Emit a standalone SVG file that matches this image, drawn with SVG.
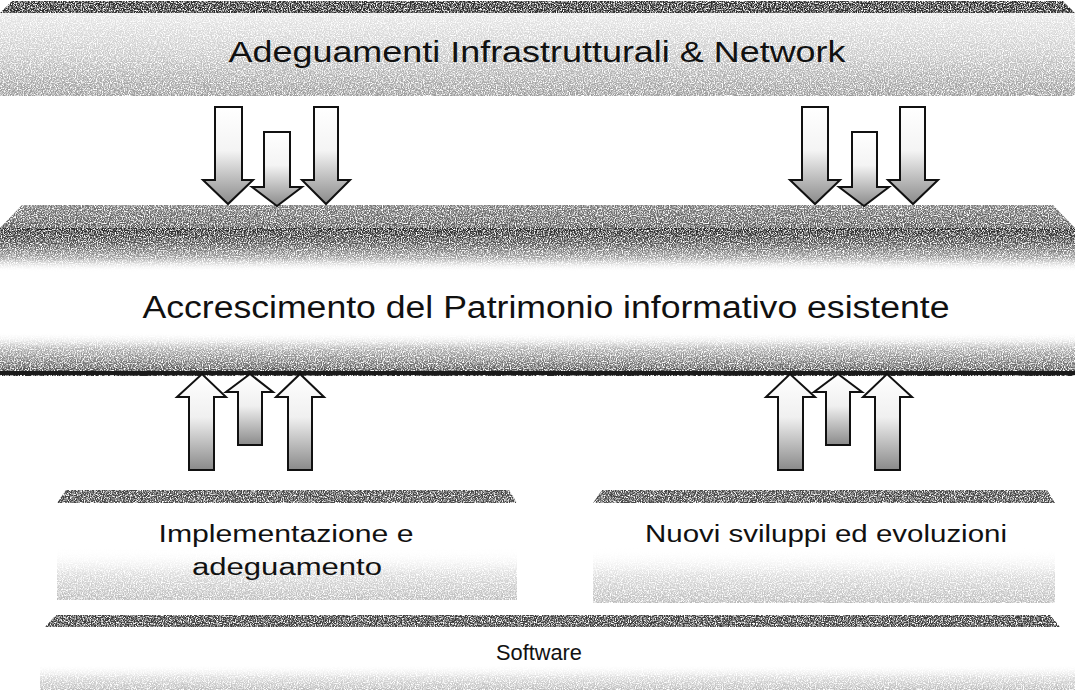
<svg xmlns="http://www.w3.org/2000/svg" width="1075" height="690" viewBox="0 0 1075 690">
<style>
.t{font-family:"Liberation Sans","Open Sans",sans-serif;fill:#111;}
.arrow{stroke:#111;stroke-width:2;stroke-linejoin:miter;}
</style>
<defs>
<filter id="grain" x="0" y="0" width="1" height="1">
<feTurbulence type="fractalNoise" baseFrequency="0.85" numOctaves="2" seed="4" result="n"/>
<feColorMatrix in="n" type="matrix" values="0 0 0 0 0  0 0 0 0 0  0 0 0 0 0  0 0 0 3.2 -0.9" result="a"/>
<feComposite in="SourceGraphic" in2="a" operator="in"/>
</filter>
<linearGradient id="topBand" x1="0" y1="0" x2="0" y2="1">
<stop offset="0" stop-color="#e8e8e8"/>
<stop offset="0.5" stop-color="#cacaca"/>
<stop offset="1" stop-color="#9a9a9a"/>
</linearGradient>
<linearGradient id="bevel" x1="0" y1="0" x2="0" y2="1">
<stop offset="0" stop-color="#777"/>
<stop offset="1" stop-color="#5a5a5a"/>
</linearGradient>
<linearGradient id="midUpper" x1="0" y1="0" x2="0" y2="1">
<stop offset="0" stop-color="#222"/>
<stop offset="0.35" stop-color="#555"/>
<stop offset="0.7" stop-color="#aaa"/>
<stop offset="1" stop-color="#fff" stop-opacity="0"/>
</linearGradient>
<linearGradient id="midLower" x1="0" y1="0" x2="0" y2="1">
<stop offset="0" stop-color="#fff" stop-opacity="0"/>
<stop offset="0.35" stop-color="#bbb"/>
<stop offset="0.8" stop-color="#666"/>
<stop offset="1" stop-color="#222"/>
</linearGradient>
<linearGradient id="light" x1="0" y1="0" x2="0" y2="1">
<stop offset="0" stop-color="#fff" stop-opacity="0"/>
<stop offset="0.5" stop-color="#ddd"/>
<stop offset="1" stop-color="#bbb"/>
</linearGradient>
<linearGradient id="downFill" x1="0" y1="0" x2="0" y2="1">
<stop offset="0" stop-color="#fff"/>
<stop offset="0.45" stop-color="#f4f4f4"/>
<stop offset="1" stop-color="#8a8a8a"/>
</linearGradient>
<linearGradient id="upFill" x1="0" y1="1" x2="0" y2="0">
<stop offset="0" stop-color="#8a8a8a"/>
<stop offset="0.55" stop-color="#f0f0f0"/>
<stop offset="1" stop-color="#fff"/>
</linearGradient>
</defs>

<g id="infrastruttura">
<rect x="0" y="12" width="1075" height="84" fill="url(#topBand)" filter="url(#grain)"/>
<polygon points="0,13 12,1 1063,1 1075,13" fill="#2a2a2a" filter="url(#grain)"/>
<text class="t" x="537" y="62" font-size="30" text-anchor="middle" textLength="617" lengthAdjust="spacingAndGlyphs">Adeguamenti  Infrastrutturali &amp; Network</text>
</g>

<g id="patrimonio">
<polygon points="22,205 1053,205 1075,228 0,228" fill="url(#bevel)" filter="url(#grain)"/>
<rect x="0" y="228" width="1075" height="44" fill="url(#midUpper)" filter="url(#grain)"/>
<rect x="0" y="332" width="1075" height="44" fill="url(#midLower)" filter="url(#grain)"/>
<rect x="0" y="371" width="1075" height="4" fill="#1a1a1a"/>
<text class="t" x="546" y="318" font-size="31" text-anchor="middle" textLength="807" lengthAdjust="spacingAndGlyphs">Accrescimento del Patrimonio informativo esistente</text>
</g>

<g id="implementazione">
<polygon points="57,503 66,490 509,490 517,503" fill="#444" filter="url(#grain)"/>
<rect x="57" y="548" width="460" height="52" fill="url(#light)" filter="url(#grain)"/>
<text class="t" x="286" y="542" font-size="23" text-anchor="middle" textLength="255" lengthAdjust="spacingAndGlyphs">Implementazione e</text>
<text class="t" x="287" y="575" font-size="23" text-anchor="middle" textLength="190" lengthAdjust="spacingAndGlyphs">adeguamento</text>
</g>

<g id="sviluppi">
<polygon points="593,503 602,490 1047,490 1055,503" fill="#444" filter="url(#grain)"/>
<rect x="593" y="548" width="462" height="55" fill="url(#light)" filter="url(#grain)"/>
<text class="t" x="826" y="542" font-size="23" text-anchor="middle" textLength="362" lengthAdjust="spacingAndGlyphs">Nuovi sviluppi ed evoluzioni</text>
</g>

<g id="software">
<polygon points="45,627 56,615 1050,615 1060,627" fill="#3a3a3a" filter="url(#grain)"/>
<rect x="40" y="664" width="1035" height="26" fill="url(#light)" filter="url(#grain)"/>
<text class="t" x="539" y="660" font-size="22" text-anchor="middle" textLength="86" lengthAdjust="spacingAndGlyphs">Software</text>
</g>

<g id="connectors">
<path class="arrow" fill="url(#downFill)" d="M215,107 H242 V180 H253 L228,204 L203,180 H215 Z"/>
<path class="arrow" fill="url(#downFill)" d="M264,132 H290 V187 H302 L277,206 L252,187 H264 Z"/>
<path class="arrow" fill="url(#downFill)" d="M314,107 H338 V180 H350 L326,204 L302,180 H314 Z"/>
<path class="arrow" fill="url(#downFill)" d="M802,107 H828 V180 H840 L815,204 L790,180 H802 Z"/>
<path class="arrow" fill="url(#downFill)" d="M852,132 H877 V187 H889 L864,206 L839,187 H852 Z"/>
<path class="arrow" fill="url(#downFill)" d="M900,107 H925 V180 H938 L913,204 L888,180 H900 Z"/>
<path class="arrow" fill="url(#upFill)" d="M189,470 V397 H177 L202,374 L226,397 H214 V470 Z"/>
<path class="arrow" fill="url(#upFill)" d="M238,445 V392 H226 L250,374 L273,392 H262 V445 Z"/>
<path class="arrow" fill="url(#upFill)" d="M288,470 V397 H276 L300,374 L324,397 H312 V470 Z"/>
<path class="arrow" fill="url(#upFill)" d="M778,470 V397 H766 L790,374 L815,397 H803 V470 Z"/>
<path class="arrow" fill="url(#upFill)" d="M826,445 V392 H814 L838,374 L862,392 H850 V445 Z"/>
<path class="arrow" fill="url(#upFill)" d="M875,470 V397 H863 L887,374 L912,397 H900 V470 Z"/>
</g>
</svg>
